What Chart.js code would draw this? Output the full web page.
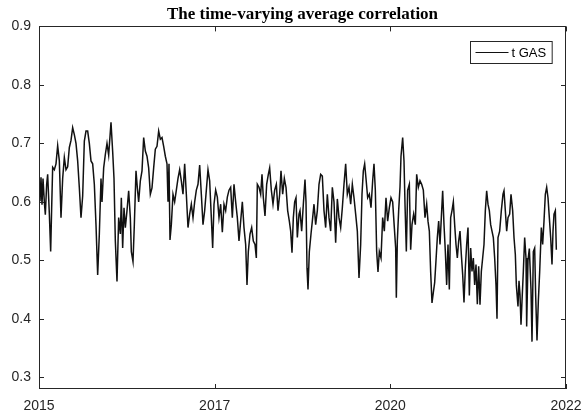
<!DOCTYPE html>
<html>
<head>
<meta charset="utf-8">
<script src="https://cdn.jsdelivr.net/npm/chart.js@4.4.1/dist/chart.umd.min.js"></script>
<style>
  html, body { margin: 0; padding: 0; background: #fff; }
  #wrap { width: 581px; height: 417px; }
</style>
</head>
<body>
<div id="wrap"><canvas id="myChart" width="581" height="417"></canvas></div>
<script>
// observation number (trading day) and the estimated average correlation
var obsIndex = [3,6,9,12,16,19,23,26,31,35,38,41,46,51,56,61,66,71,76,81,86,91,96,101,106,111,116,121,126,131,136,141,146,151,156,161,166,171,176,181,186,
  189,194,199,204,209,216,221,225,229,234,239,244,247,251,255,259,264,269,274,277,282,286,291,295,299,304,309,314,319,324,329,334,339,344,349,354,359,364,369,374,379,384,
  387,390,393,397,402,407,412,417,422,427,432,437,442,447,452,457,462,467,472,477,482,487,492,497,502,507,512,517,521,525,530,535,540,545,550,555,560,565,570,575,580,
  585,590,595,600,605,610,615,620,624,628,633,638,643,648,652,655,660,665,669,673,678,683,688,692,697,702,707,712,717,722,726,731,736,741,746,751,755,759,763,767,771,775,780,
  783,788,793,798,801,804,807,811,816,820,825,830,835,840,845,850,855,860,865,870,875,880,885,890,895,900,905,910,915,920,925,930,935,940,945,950,955,960,965,969,973,977,
  981,986,991,996,1001,1005,1009,1013,1017,1021,1026,1031,1036,1041,1046,1051,1056,1061,1066,1070,1072,1075,1079,1083,1086,1091,1095,1098,1102,1106,1111,1115,1119,1124,1129,1133,1138,1143,1148,1153,1158,1163,1167,1171,1175,
  1179,1183,1187,1191,1195,1199,1203,1207,1211,1215,1219,1223,1227,1231,1235,1239,1243,1247,1251,1255,1259,1263,1267,1271,1275,1279,1283,1287,1291,1295,1299,1303,1307,1311,1315,1319,1323,1327,1331,1335,1339,1343,1347,1351,1355,1359,1363,1367,1371,1374,
  1377,1382,1387,1392,1395,1399,1403,1407,1412,1416,1421,1425,1429,1432,1437,1440,1443,1446,1449,1453,1457,1461,1463,1467,1471,1476,1479,1483,1487,1490,1494,1498,1502,1507,1511,1515,1519,1523,1527,1531,1535,1539,1542,1545,1549,1552];

var tGasValues = [0.601,0.642,0.595,0.64,0.60,0.578,0.63,0.647,0.58,0.515,0.59,0.659,0.655,0.665,0.696,0.67,0.573,0.64,0.676,0.655,0.66,0.693,0.705,0.727,0.715,0.70,0.67,0.624,0.573,0.61,0.704,0.721,0.721,0.70,0.67,0.665,0.63,0.561,0.475,0.545,0.64,
  0.60,0.658,0.681,0.70,0.68,0.736,0.686,0.64,0.533,0.464,0.573,0.545,0.607,0.521,0.59,0.556,0.585,0.619,0.573,0.515,0.498,0.561,0.653,0.624,0.60,0.636,0.653,0.71,0.687,0.678,0.658,0.613,0.624,0.658,0.69,0.695,0.721,0.707,0.71,0.695,0.678,0.665,
  0.60,0.665,0.535,0.561,0.613,0.60,0.62,0.64,0.655,0.636,0.613,0.665,0.613,0.556,0.579,0.596,0.573,0.60,0.62,0.63,0.663,0.613,0.561,0.585,0.62,0.655,0.636,0.573,0.521,0.596,0.62,0.608,0.573,0.596,0.548,0.596,0.585,0.608,0.62,0.625,0.573,
  0.63,0.60,0.573,0.533,0.567,0.60,0.556,0.527,0.458,0.515,0.545,0.556,0.533,0.527,0.504,0.63,0.625,0.613,0.647,0.607,0.576,0.63,0.647,0.658,0.62,0.596,0.62,0.63,0.585,0.613,0.653,0.613,0.64,0.625,0.585,0.567,0.55,0.513,0.573,0.60,0.607,0.539,0.579,
  0.585,0.55,0.596,0.638,0.60,0.487,0.45,0.515,0.545,0.567,0.596,0.561,0.585,0.63,0.647,0.644,0.585,0.556,0.613,0.573,0.55,0.625,0.60,0.53,0.605,0.573,0.556,0.59,0.63,0.665,0.613,0.625,0.596,0.63,0.607,0.579,0.55,0.47,0.527,0.613,0.653,0.665,
  0.64,0.607,0.613,0.59,0.636,0.665,0.62,0.515,0.48,0.515,0.504,0.573,0.55,0.607,0.567,0.59,0.607,0.60,0.556,0.521,0.436,0.533,0.585,0.625,0.678,0.71,0.67,0.596,0.515,0.62,0.63,0.518,0.561,0.579,0.561,0.647,0.625,0.636,0.63,0.62,0.573,0.596,0.567,0.55,0.48,
  0.427,0.445,0.462,0.50,0.539,0.567,0.527,0.573,0.619,0.561,0.515,0.458,0.527,0.45,0.573,0.585,0.60,0.561,0.527,0.504,0.533,0.55,0.51,0.476,0.428,0.487,0.527,0.556,0.44,0.521,0.481,0.504,0.458,0.493,0.425,0.49,0.424,0.481,0.504,0.527,0.585,0.619,0.596,0.585,0.561,0.55,0.539,0.504,0.458,0.40,
  0.539,0.55,0.585,0.613,0.619,0.585,0.55,0.573,0.579,0.613,0.585,0.539,0.51,0.458,0.421,0.465,0.441,0.39,0.43,0.481,0.539,0.504,0.387,0.50,0.52,0.45,0.361,0.515,0.521,0.44,0.363,0.43,0.48,0.556,0.527,0.567,0.613,0.625,0.607,0.573,0.539,0.493,0.55,0.579,0.585,0.518];

var xTickObs = [0, 527, 1054, 1581];
var xTickLabels = ["2015", "2017", "2020", "2022"];
var yTickValues = [0.3, 0.4, 0.5, 0.6, 0.7, 0.8, 0.9];

var axisColor = "#262626";
var tickLen = 5;

var points = obsIndex.map(function (t, i) { return {x: t, y: tGasValues[i]}; });

var matlabFrame = {
  id: "matlabFrame",
  afterDraw: function (chart) {
    var ctx = chart.ctx, a = chart.chartArea;
    var xs = chart.scales.x, ys = chart.scales.y;
    ctx.save();
    ctx.strokeStyle = axisColor;
    ctx.lineWidth = 1;
    ctx.strokeRect(Math.round(a.left) + 0.5, Math.round(a.top) + 0.5,
      Math.round(a.right - a.left) - 1, Math.round(a.bottom - a.top) - 1);
    ctx.beginPath();
    xs.ticks.forEach(function (t) {
      var px = Math.round(xs.getPixelForValue(t.value)) + 0.5;
      ctx.moveTo(px, a.bottom); ctx.lineTo(px, a.bottom - tickLen);
      ctx.moveTo(px, a.top); ctx.lineTo(px, a.top + tickLen);
    });
    ys.ticks.forEach(function (t) {
      var py = Math.round(ys.getPixelForValue(t.value)) + 0.5;
      ctx.moveTo(a.left, py); ctx.lineTo(a.left + tickLen, py);
      ctx.moveTo(a.right, py); ctx.lineTo(a.right - tickLen, py);
    });
    ctx.stroke();

    // legend box, top right inside the axes
    var ds = chart.data.datasets[0];
    ctx.font = '13px "Liberation Sans", Arial, sans-serif';
    var tw = ctx.measureText(ds.label).width;
    var w = 5 + 33 + 3 + tw + 6, h = 22;
    var bx = Math.round(a.right - 14 - w) + 0.5, by = Math.round(a.top + 15) + 0.5;
    ctx.fillStyle = "#fff";
    ctx.fillRect(bx, by, w, h);
    ctx.strokeStyle = axisColor;
    ctx.strokeRect(bx, by, w, h);
    ctx.strokeStyle = ds.borderColor;
    ctx.lineWidth = 1.2;
    ctx.beginPath();
    ctx.moveTo(bx + 5, by + h / 2); ctx.lineTo(bx + 38, by + h / 2);
    ctx.stroke();
    ctx.fillStyle = "#000";
    ctx.textBaseline = "middle";
    ctx.fillText(ds.label, bx + 41, by + h / 2 + 0.5);
    ctx.restore();
  }
};

new Chart("myChart", {
  type: "line",
  data: {
    datasets: [{
      label: "t GAS",
      data: points,
      borderColor: "#111",
      borderWidth: 1.5,
      pointRadius: 0,
      tension: 0,
      fill: false
    }]
  },
  options: {
    responsive: false,
    animation: false,
    layout: {padding: {left: 0, right: 15, top: 0, bottom: 0}},
    plugins: {
      legend: {display: false},
      tooltip: {enabled: false},
      title: {
        display: true,
        text: "The time-varying average correlation",
        fullSize: false,
        color: "#000",
        font: {family: '"Liberation Serif", "Times New Roman", serif', size: 17, weight: "bold"},
        padding: {top: 4, bottom: 2}
      }
    },
    scales: {
      x: {
        type: "linear",
        min: 0,
        max: 1581,
        grid: {display: false, drawTicks: false},
        border: {display: false},
        afterBuildTicks: function (s) { s.ticks = xTickObs.map(function (v) { return {value: v}; }); },
        afterFit: function (s) { s.height = 28; s.paddingLeft = 0; s.paddingRight = 0; },
        ticks: {
          autoSkip: false,
          maxRotation: 0,
          padding: 9,
          color: axisColor,
          font: {family: '"Liberation Sans", Arial, sans-serif', size: 14},
          callback: function (v) { return xTickLabels[xTickObs.indexOf(v)]; }
        }
      },
      y: {
        min: 0.28,
        max: 0.9,
        grid: {display: false, drawTicks: false},
        border: {display: false},
        afterBuildTicks: function (s) { s.ticks = yTickValues.map(function (v) { return {value: v}; }); },
        afterFit: function (s) { s.width = 39; },
        ticks: {
          padding: 8,
          color: axisColor,
          font: {family: '"Liberation Sans", Arial, sans-serif', size: 14},
          callback: function (v) { return v.toFixed(1); }
        }
      }
    }
  },
  plugins: [matlabFrame]
});
</script>
</body>
</html>
